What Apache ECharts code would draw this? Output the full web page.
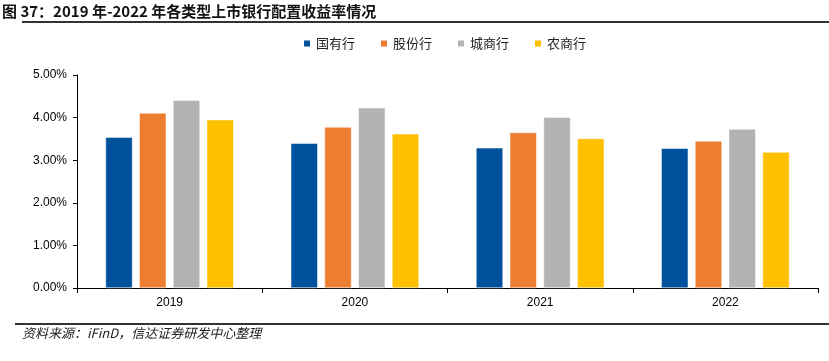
<!DOCTYPE html>
<html><head><meta charset="utf-8">
<script src="https://cdn.jsdelivr.net/npm/echarts@6/dist/echarts.min.js"></script>
<style>html,body{margin:0;padding:0;background:#fff}#c{width:829px;height:361px}</style>
</head><body><div id="c"></div>
<script>
const categories = ['2019', '2020', '2021', '2022'];
const seriesNames = ['国有行', '股份行', '城商行', '农商行'];
const stateOwned = [3.54, 3.40, 3.29, 3.28];
const jointStock = [4.11, 3.78, 3.65, 3.45];
const cityBanks = [4.41, 4.23, 4.01, 3.73];
const ruralBanks = [3.95, 3.62, 3.51, 3.19];
const yTicks = [0, 1, 2, 3, 4, 5];
const colors = ['#00519b', '#ed7d31', '#b3b3b3', '#ffc000'];
const values = [stateOwned, jointStock, cityBanks, ruralBanks];

const chart = echarts.init(document.getElementById('c'));
chart.setOption({
  animation: false,
  textStyle: {fontFamily: 'Arial, "Liberation Sans", sans-serif'},
  legend: {
    top: 32, left: 297, itemGap: 24, itemWidth: 8, itemHeight: 8, icon: 'rect',
    textStyle: {fontSize: 13, color: '#222', fontFamily: '"Noto Sans CJK SC", sans-serif'},
    data: seriesNames
  },
  grid: {left: 77, right: 11, top: 75, bottom: 73},
  xAxis: {
    type: 'category', data: categories,
    axisLine: {lineStyle: {color: '#000', width: 1}},
    axisTick: {show: true, length: 5, lineStyle: {color: '#000'}},
    axisLabel: {color: '#000', fontSize: 12, margin: 9}
  },
  yAxis: {
    type: 'value', min: yTicks[0], max: yTicks[yTicks.length - 1], interval: 1,
    axisLine: {show: true, lineStyle: {color: '#000', width: 1}},
    axisTick: {show: true, length: 4, lineStyle: {color: '#000'}},
    splitLine: {show: false},
    axisLabel: {color: '#000', fontSize: 12, margin: 10, formatter: v => v.toFixed(2) + '%'}
  },
  series: seriesNames.map((n, i) => ({
    name: n, type: 'bar', data: values[i], barWidth: 27, barGap: '25%',
    itemStyle: {color: colors[i], borderColor: '#fff', borderWidth: 0.5}
  })),
  graphic: [
    {type: 'text', left: 2, top: 4, style: {text: '图 37：2019 年-2022 年各类型上市银行配置收益率情况', fontSize: 15, fontWeight: 'bold', fill: '#111', fontFamily: '"Noto Sans CJK SC", sans-serif'}},
    {type: 'rect', shape: {x: 22, y: 21, width: 807, height: 2}, style: {fill: '#333'}},
    {type: 'rect', shape: {x: 15, y: 323, width: 814, height: 2}, style: {fill: '#333'}},
    {type: 'text', left: 22, top: 327, style: {text: '资料来源：iFinD，信达证券研发中心整理', fontSize: 13, fontStyle: 'italic', fill: '#222', fontFamily: '"Noto Sans CJK SC", sans-serif'}}
  ]
});
</script></body></html>
